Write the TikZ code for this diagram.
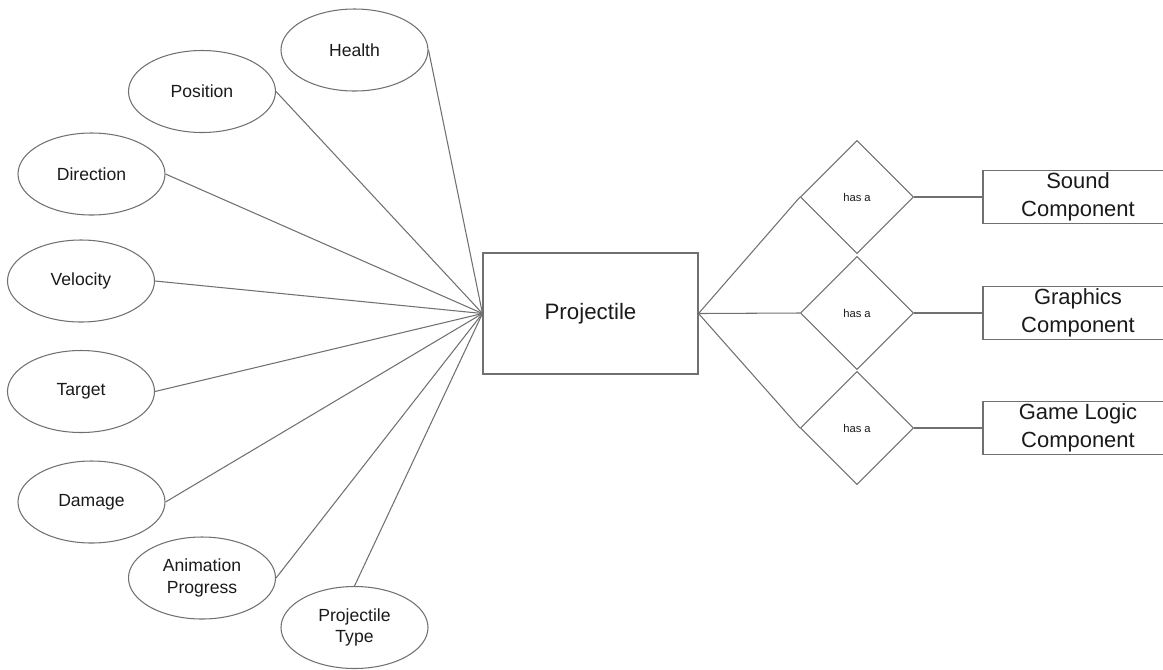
\documentclass[tikz,border=0pt]{standalone}
\usepackage{fontspec}
\setmainfont{Liberation Sans}
\usetikzlibrary{shapes.geometric}

\begin{document}
\begin{tikzpicture}[x=1cm,y=1cm,
  attr/.style={ellipse,draw=linegray,line width=.6pt,inner sep=0pt,minimum width=2.94cm,minimum height=1.64cm,align=center,text=inkgray,font=\fontsize{10}{12.3}\selectfont},
  entity/.style={draw=linegray,line width=.6pt,inner sep=0pt,minimum width=4.30cm,minimum height=2.42cm,text=inkgray,font=\fontsize{12.7}{15.5}\selectfont},
  rel/.style={diamond,draw=linegray,line width=.6pt,inner sep=0pt,aspect=1,minimum width=2.26cm,minimum height=2.26cm,text=inkgray,font=\fontsize{6.4}{8}\selectfont},
  part/.style={draw=linegray,line width=.6pt,inner sep=0pt,minimum width=3.8cm,minimum height=1.06cm,align=center,text=inkgray,font=\fontsize{12.5}{15.7}\selectfont},
  link/.style={line width=.6pt,draw=linegray}]
\definecolor{linegray}{RGB}{112,112,112}
\definecolor{inkgray}{RGB}{26,26,26}
\useasboundingbox (0,0) rectangle (23.26,-13.38);
\node[attr] (health) at (7.09,-1.00) {Health};
\node[attr] (pos) at (4.04,-1.83) {Position};
\node[attr] (dir) at (1.83,-3.48) {Direction};
\node[attr] (vel) at (1.62,-5.62) {Velocity};
\node[attr] (tgt) at (1.62,-7.83) {Target};
\node[attr] (dmg) at (1.83,-10.04) {Damage};
\node[attr] (anim) at (4.04,-11.56) {Animation\\Progress};
\node[attr] (ptype) at (7.09,-12.55) {Projectile\\Type};
\node[entity] (proj) at (11.81,-6.27) {Projectile};
\draw[link] (health.east)--(proj.west); \draw[link] (pos.east)--(proj.west);
\draw[link] (dir.east)--(proj.west); \draw[link] (vel.east)--(proj.west);
\draw[link] (tgt.east)--(proj.west); \draw[link] (dmg.east)--(proj.west);
\draw[link] (anim.east)--(proj.west); \draw[link] (ptype.north)--(proj.west);
\node[rel] (hsound) at (17.14,-3.94) {has a};
\node[rel] (hgfx) at (17.14,-6.26) {has a};
\node[rel] (hlogic) at (17.14,-8.56) {has a};
\node[part] (sound) at (21.56,-3.94) {Sound\\Component};
\node[part] (gfx) at (21.56,-6.26) {Graphics\\Component};
\node[part] (logic) at (21.56,-8.56) {Game Logic\\Component};
\draw[link] (proj.east)--(hsound.west); \draw[link] (proj.east)--(hgfx.west); \draw[link] (proj.east)--(hlogic.west);
\draw[link] (hsound.east)--(sound.west); \draw[link] (hgfx.east)--(gfx.west); \draw[link] (hlogic.east)--(logic.west);
\end{tikzpicture}
\end{document}
